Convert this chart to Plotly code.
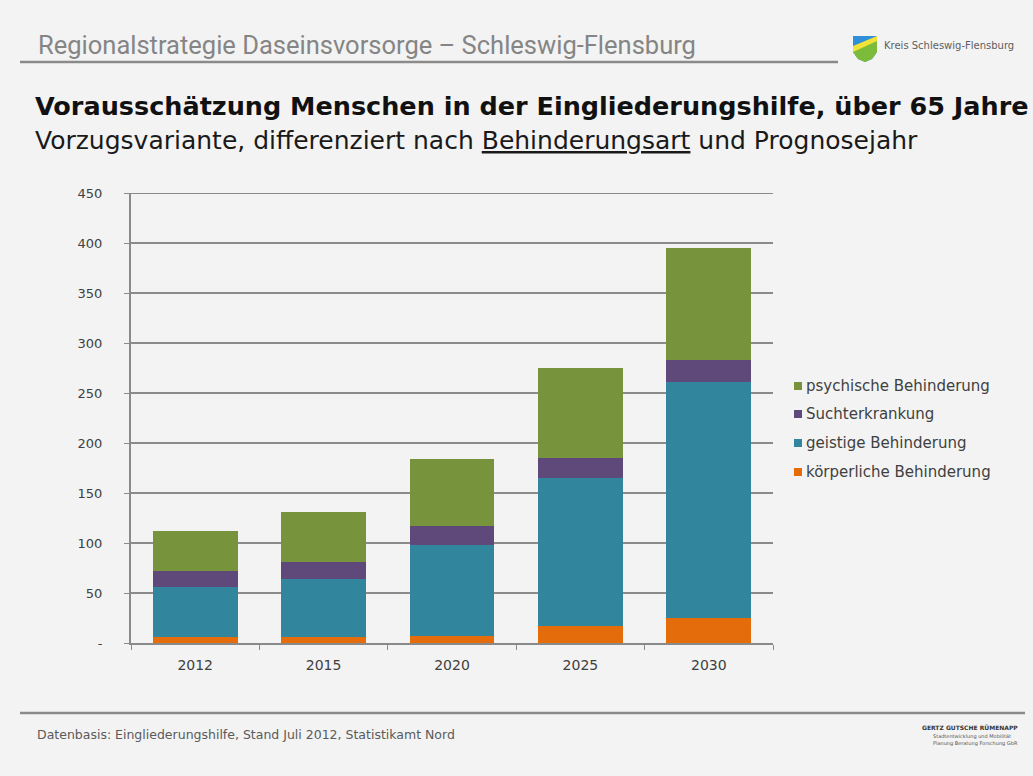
import plotly.graph_objects as go

# Prognosis years and the four categories of disability (stack order bottom -> top)
years = ["2012", "2015", "2020", "2025", "2030"]
koerperlich = [6, 6, 7, 17, 25]
geistig = [50, 58, 91, 148, 236]
sucht = [16, 17, 19, 20, 22]
psychisch = [40, 50, 67, 90, 112]

series_names = ["körperliche Behinderung", "geistige Behinderung",
                "Suchterkrankung", "psychische Behinderung"]
series_values = [koerperlich, geistig, sucht, psychisch]
series_colors = ["#E46C0A", "#31859C", "#5F497A", "#77933C"]

y_ticks = [0, 50, 100, 150, 200, 250, 300, 350, 400, 450]
y_ticktext = ["-"] + [str(v) for v in y_ticks[1:]]

W, H = 1033, 776
Y_MAX = 450
PL, PR, PB = 131, 773, 643          # plot area edges in pixels
PT = PB - Y_MAX                     # one pixel per unit

def px(x):
    return (x - PL) / (PR - PL)

def py(y):
    return (PB - y) / (PB - PT)

BG = "#F3F3F3"
GRID = "#8A8A8A"
TXT = "#404040"
FONT = "DejaVu Sans"

fig = go.Figure()
for name, vals, col in zip(series_names, series_values, series_colors):
    fig.add_trace(go.Bar(x=years, y=vals, name=name, marker_color=col,
                         marker_line_width=0, showlegend=False))

shapes = []
annotations = []

# gridline at the top of the value range (plotly skips it at the plot edge)
shapes.append(dict(type="line", xref="paper", yref="y", x0=0, x1=1,
                   y0=y_ticks[-1], y1=y_ticks[-1], layer="below",
                   line=dict(color=GRID, width=2)))

# header rule and footer rule
shapes.append(dict(type="line", xref="paper", yref="paper",
                   x0=px(20), x1=px(838), y0=py(62), y1=py(62),
                   line=dict(color="#8A8A8A", width=2.5)))
shapes.append(dict(type="line", xref="paper", yref="paper",
                   x0=px(20), x1=px(1025), y0=py(713), y1=py(713),
                   line=dict(color="#8A8A8A", width=2.5)))

# coat of arms of the district (simplified shield)
def path(points):
    return "M" + " L".join(f"{px(a):.5f},{py(b):.5f}" for a, b in points) + " Z"

shield = [(853, 36), (877, 36), (877, 52), (872, 59), (865, 62), (858, 59), (853, 52)]
shapes.append(dict(type="path", xref="paper", yref="paper", path=path(shield),
                   fillcolor="#2F8FD8", line=dict(width=0)))
shapes.append(dict(type="path", xref="paper", yref="paper",
                   path=path([(853, 50), (877, 38), (877, 52), (872, 59), (865, 62), (858, 59), (853, 52)]),
                   fillcolor="#7DBB3A", line=dict(width=0)))
shapes.append(dict(type="path", xref="paper", yref="paper",
                   path=path([(853, 46), (877, 36), (877, 41), (853, 52)]),
                   fillcolor="#F2E23A", line=dict(width=0)))

annotations.append(dict(text="Kreis Schleswig-Flensburg", xref="paper", yref="paper",
                        x=px(882), y=py(45), xanchor="left", yanchor="middle",
                        showarrow=False, font=dict(family=FONT, size=10, color="#5E5E5E")))

# titles
annotations.append(dict(text="Regionalstrategie Daseinsvorsorge – Schleswig-Flensburg",
                        xref="paper", yref="paper", x=px(36), y=py(45),
                        xanchor="left", yanchor="middle", showarrow=False,
                        font=dict(family="Roboto", size=25.5, color="#858585")))
annotations.append(dict(text="<b>Vorausschätzung Menschen in der Eingliederungshilfe, über 65 Jahre</b>",
                        xref="paper", yref="paper", x=px(33), y=py(106),
                        xanchor="left", yanchor="middle", showarrow=False,
                        font=dict(family=FONT, size=25.5, color="#111111")))
annotations.append(dict(text="Vorzugsvariante, differenziert nach <u>Behinderungsart</u> und Prognosejahr",
                        xref="paper", yref="paper", x=px(33), y=py(141),
                        xanchor="left", yanchor="middle", showarrow=False,
                        font=dict(family=FONT, size=25, color="#1A1A1A")))

# footer
annotations.append(dict(text="Datenbasis: Eingliederungshilfe, Stand Juli 2012, Statistikamt Nord",
                        xref="paper", yref="paper", x=px(35), y=py(734),
                        xanchor="left", yanchor="middle", showarrow=False,
                        font=dict(family=FONT, size=12.5, color="#5A5A5A")))
annotations.append(dict(text="<b>GERTZ GUTSCHE RÜMENAPP</b>",
                        xref="paper", yref="paper", x=px(1020), y=py(727),
                        xanchor="right", yanchor="middle", showarrow=False,
                        font=dict(family=FONT, size=6, color="#333333")))
annotations.append(dict(text="Stadtentwicklung und Mobilität<br>Planung Beratung Forschung GbR",
                        xref="paper", yref="paper", x=px(1020), y=py(740),
                        xanchor="right", yanchor="middle", showarrow=False, align="left",
                        font=dict(family=FONT, size=5, color="#555555")))

# legend (top entry = top of the stack)
legend_rows = [386, 414, 443, 472]
for row, name, col in zip(legend_rows, series_names[::-1], series_colors[::-1]):
    shapes.append(dict(type="rect", xref="paper", yref="paper",
                       x0=px(794), x1=px(802), y0=py(row - 4), y1=py(row + 4),
                       fillcolor=col, line=dict(width=0)))
    annotations.append(dict(text=name, xref="paper", yref="paper",
                            x=px(804), y=py(row), xanchor="left", yanchor="middle",
                            showarrow=False, font=dict(family=FONT, size=15, color=TXT)))

fig.update_layout(
    width=W, height=H,
    margin=dict(l=PL, r=W - PR, t=PT, b=H - PB, pad=0),
    paper_bgcolor=BG, plot_bgcolor=BG,
    barmode="stack", bargap=0.34,
    shapes=shapes, annotations=annotations,
    font=dict(family=FONT, color=TXT),
)
fig.update_xaxes(type="category", showline=True, linecolor=GRID, linewidth=2,
                 ticks="outside", tickson="boundaries", ticklen=5, tickcolor=GRID,
                 tickfont=dict(size=14, color=TXT), showgrid=False,
                 ticklabelstandoff=8)
fig.update_yaxes(range=[0, Y_MAX], tickvals=y_ticks, ticktext=y_ticktext,
                 showline=True, linecolor=GRID, linewidth=2,
                 ticks="outside", ticklen=5, tickcolor=GRID,
                 gridcolor=GRID, gridwidth=2, zeroline=False,
                 tickfont=dict(size=13, color=TXT), ticklabelstandoff=19)

fig.write_html("out.html")
